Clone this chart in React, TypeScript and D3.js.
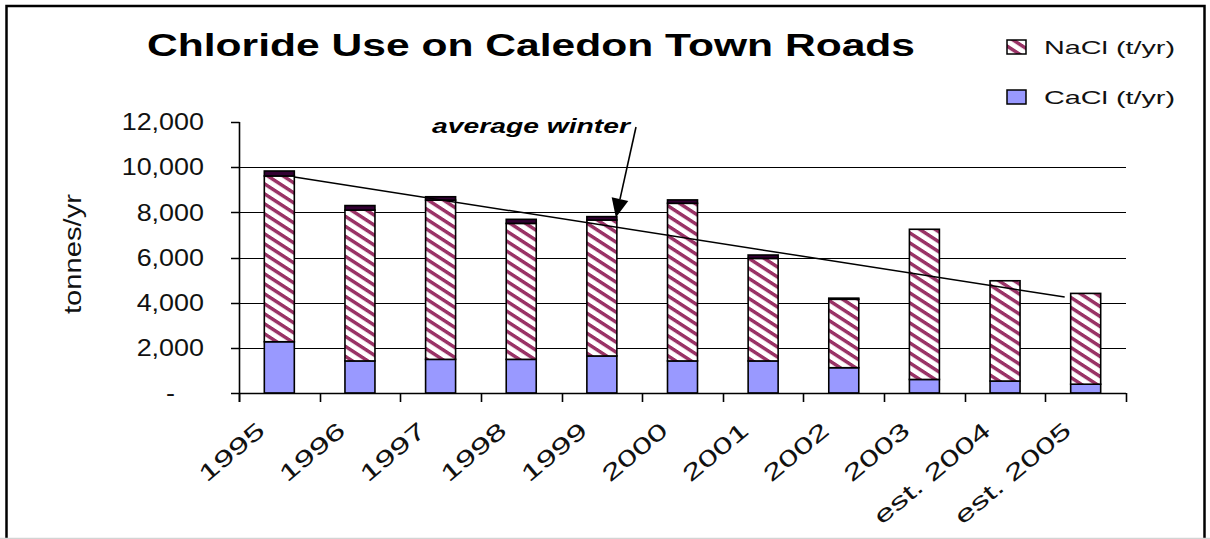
import React, { useEffect, useRef } from "react";
import * as d3 from "d3";

// chart data
const years = ["1995", "1996", "1997", "1998", "1999", "2000", "2001", "2002", "2003", "est. 2004", "est. 2005"];
const cacl = [2270, 1420, 1490, 1490, 1640, 1420, 1420, 1120, 600, 530, 390];
const nacl = [7340, 6680, 7050, 6020, 6020, 6980, 4540, 3030, 6650, 4440, 4020];
const otherCap = [220, 200, 150, 180, 150, 150, 150, 50, 0, 0, 0];
const yTicks = [0, 2000, 4000, 6000, 8000, 10000, 12000];
const trendFrom = 9560; // "average winter" line, 1995 end
const trendTo = 4250; // est. 2005 end
const seriesNames = ["CaCl (t/yr)", "NaCl (t/yr)"];

const FONT = "'Liberation Sans', Arial, sans-serif";

const App = () => {
  const ref = useRef<SVGSVGElement>(null);

  useEffect(() => {
    const W = 1210;
    const H = 539;
    const svg = d3.select(ref.current).attr("width", W).attr("height", H);
    svg.selectAll("*").remove();

    const x = d3.scaleBand().domain(years).range([239, 1126]);
    const y = d3.scaleLinear().domain([0, 12000]).range([393, 122]);
    const barW = 30;
    const cx = (d: string) => (x(d) as number) + x.bandwidth() / 2;

    const defs = svg.append("defs");
    const pat = defs
      .append("pattern")
      .attr("id", "naclStripe")
      .attr("patternUnits", "userSpaceOnUse")
      .attr("width", 10)
      .attr("height", 10)
      .attr("patternTransform", "skewY(33)");
    pat.append("rect").attr("width", 10).attr("height", 10).attr("fill", "#fff");
    pat.append("rect").attr("width", 10).attr("height", 4.2).attr("fill", "#993366");

    // background + frame
    svg.append("rect").attr("width", W).attr("height", H).attr("fill", "#fff");
    svg
      .append("rect")
      .attr("x", 6.5)
      .attr("y", 6)
      .attr("width", 1198)
      .attr("height", 600)
      .attr("fill", "none")
      .attr("stroke", "#000")
      .attr("stroke-width", 2.5);
    svg
      .append("line")
      .attr("x1", 0)
      .attr("x2", W)
      .attr("y1", 538.5)
      .attr("y2", 538.5)
      .attr("stroke", "#d4d4d4")
      .attr("stroke-width", 1.5);

    const fitText = (sel: any, factor: number) =>
      sel.each(function (this: SVGTextElement) {
        const len = this.getComputedTextLength();
        d3.select(this).attr("textLength", len * factor).attr("lengthAdjust", "spacingAndGlyphs");
      });

    // title
    svg
      .append("text")
      .attr("x", 147)
      .attr("y", 55.5)
      .attr("font-family", FONT)
      .attr("font-weight", "bold")
      .attr("font-size", 32)
      .attr("textLength", 768)
      .attr("lengthAdjust", "spacingAndGlyphs")
      .text("Chloride Use on Caledon Town Roads");

    // gridlines
    const xEnd = x.range()[1];
    svg
      .append("g")
      .selectAll("line")
      .data(yTicks.filter((t) => t > 0 && t < 12000))
      .join("line")
      .attr("x1", x.range()[0])
      .attr("x2", xEnd)
      .attr("y1", (d) => Math.round(y(d)) + 0.5)
      .attr("y2", (d) => Math.round(y(d)) + 0.5)
      .attr("stroke", "#000")
      .attr("stroke-width", 1.2);

    // stacked bars
    const rows = years.map((yr, i) => ({ year: yr, cacl: cacl[i], nacl: nacl[i], other: otherCap[i] }));
    const stack = d3.stack<any>().keys(["cacl", "nacl", "other"])(rows);
    const fills: Record<string, string> = { cacl: "#9999ff", nacl: "url(#naclStripe)", other: "#330033" };
    stack.forEach((layer) => {
      svg
        .append("g")
        .selectAll("rect")
        .data(layer.filter((d) => d[1] - d[0] > 0))
        .join("rect")
        .attr("x", (d) => cx(d.data.year) - barW / 2)
        .attr("width", barW)
        .attr("y", (d) => y(d[1]))
        .attr("height", (d) => y(d[0]) - y(d[1]))
        .attr("fill", fills[layer.key])
        .attr("stroke", "#000")
        .attr("stroke-width", 1.6);
    });

    // y axis
    const yAx = svg.append("g").attr("font-family", FONT);
    yAx
      .append("line")
      .attr("x1", 239.5)
      .attr("x2", 239.5)
      .attr("y1", y(12000))
      .attr("y2", y(0) + 9)
      .attr("stroke", "#000")
      .attr("stroke-width", 1.6);
    yAx
      .selectAll("line.tk")
      .data(yTicks)
      .join("line")
      .attr("class", "tk")
      .attr("x1", 231)
      .attr("x2", 239.5)
      .attr("y1", (d) => Math.round(y(d)) + 0.5)
      .attr("y2", (d) => Math.round(y(d)) + 0.5)
      .attr("stroke", "#000")
      .attr("stroke-width", 1.5);
    const yLbl = yAx
      .selectAll("text")
      .data(yTicks)
      .join("text")
      .attr("x", (d) => (d === 0 ? 175 : 204))
      .attr("y", (d) => y(d))
      .attr("dy", "0.36em")
      .attr("text-anchor", "end")
      .attr("font-size", 23)
      .attr("fill", "#111")
      .text((d) => (d === 0 ? "-" : d3.format(",")(d)));
    fitText(yLbl, 1.17);

    svg
      .append("text")
      .attr("transform", "translate(73,254) rotate(-90)")
      .attr("text-anchor", "middle")
      .attr("dy", "0.36em")
      .attr("font-family", FONT)
      .attr("font-size", 23)
      .attr("fill", "#111")
      .attr("textLength", 120)
      .attr("lengthAdjust", "spacingAndGlyphs")
      .text("tonnes/yr");

    // x axis
    const xAx = svg.append("g").attr("font-family", FONT);
    xAx
      .append("line")
      .attr("x1", x.range()[0])
      .attr("x2", xEnd)
      .attr("y1", Math.round(y(0)) + 0.5)
      .attr("y2", Math.round(y(0)) + 0.5)
      .attr("stroke", "#000")
      .attr("stroke-width", 1.6);
    const bounds = [...years.map((d) => x(d) as number), xEnd];
    xAx
      .selectAll("line.tk")
      .data(bounds)
      .join("line")
      .attr("class", "tk")
      .attr("x1", (d) => Math.round(d) + 0.5)
      .attr("x2", (d) => Math.round(d) + 0.5)
      .attr("y1", y(0))
      .attr("y2", y(0) + 9)
      .attr("stroke", "#000")
      .attr("stroke-width", 1.6);
    const xLbl = xAx
      .selectAll("text")
      .data(years)
      .join("text")
      .attr("transform", (d) => `translate(${cx(d) - 13},${y(0) + 40}) rotate(-40)`)
      .attr("text-anchor", "end")
      .attr("font-size", 23)
      .attr("fill", "#111")
      .text((d) => d);
    fitText(xLbl, 1.52);

    // "average winter" trend line
    const first = years[0];
    const last = years[years.length - 1];
    svg
      .append("line")
      .attr("x1", cx(first) + barW / 2)
      .attr("y1", y(trendFrom))
      .attr("x2", cx(last) - barW / 2 - 6)
      .attr("y2", y(trendTo))
      .attr("stroke", "#000")
      .attr("stroke-width", 1.5);

    // annotation with arrow to 1999 bar
    svg
      .append("text")
      .attr("x", 432)
      .attr("y", 133)
      .attr("font-family", FONT)
      .attr("font-weight", "bold")
      .attr("font-style", "italic")
      .attr("font-size", 20)
      .attr("textLength", 198)
      .attr("lengthAdjust", "spacingAndGlyphs")
      .text("average winter");
    const i99 = years.indexOf("1999");
    const tip: [number, number] = [cx("1999") + barW / 2 - 1, y(cacl[i99] + nacl[i99] + otherCap[i99]) + 1];
    const start: [number, number] = [636, 127];
    const ang = Math.atan2(tip[1] - start[1], tip[0] - start[0]);
    const hl = 19;
    const hw = 8.5;
    const base: [number, number] = [tip[0] - hl * Math.cos(ang), tip[1] - hl * Math.sin(ang)];
    svg
      .append("line")
      .attr("x1", start[0])
      .attr("y1", start[1])
      .attr("x2", base[0])
      .attr("y2", base[1])
      .attr("stroke", "#000")
      .attr("stroke-width", 1.6);
    svg
      .append("path")
      .attr(
        "d",
        `M${tip[0]},${tip[1]}L${base[0] + hw * Math.sin(ang)},${base[1] - hw * Math.cos(ang)}L${
          base[0] - hw * Math.sin(ang)
        },${base[1] + hw * Math.cos(ang)}Z`
      )
      .attr("fill", "#000");

    // legend
    const leg = svg.append("g").attr("font-family", FONT);
    const legItems = [
      { name: seriesNames[1], fill: "url(#naclStripe)", y: 47 },
      { name: seriesNames[0], fill: "#9999ff", y: 97 },
    ];
    legItems.forEach((it) => {
      leg
        .append("rect")
        .attr("x", 1007)
        .attr("y", it.y - 7)
        .attr("width", 19)
        .attr("height", 14)
        .attr("fill", it.fill)
        .attr("stroke", "#000")
        .attr("stroke-width", 1.5);
      leg
        .append("text")
        .attr("x", 1044)
        .attr("y", it.y)
        .attr("dy", "0.36em")
        .attr("font-size", 19)
        .attr("fill", "#111")
        .attr("textLength", 131)
        .attr("lengthAdjust", "spacingAndGlyphs")
        .text(it.name);
    });
  }, []);

  return <svg ref={ref} style={{ position: "absolute", left: 0, top: 0, display: "block" }}></svg>;
};

export default App;
